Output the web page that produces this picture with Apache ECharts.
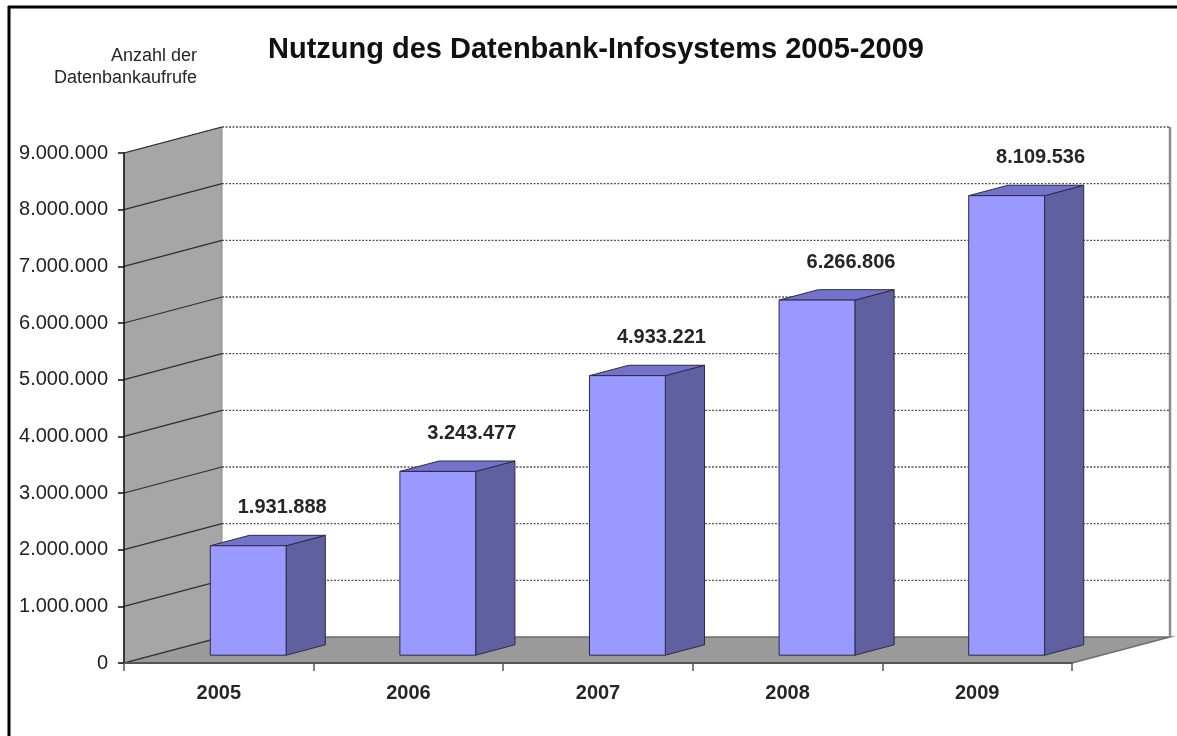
<!DOCTYPE html>
<html><head><meta charset="utf-8">
<script src="https://cdn.jsdelivr.net/npm/echarts@6/dist/echarts.min.js"></script>
<style>html,body{margin:0;padding:0;background:#fff}#c{width:1177px;height:736px}</style>
</head><body><div id="c"></div>
<script>
const categories = ['2005', '2006', '2007', '2008', '2009'];
const values = [1931888, 3243477, 4933221, 6266806, 8109536];
const yMin = 0, yMax = 9000000, yStep = 1000000;
const titleText = 'Nutzung des Datenbank-Infosystems 2005-2009';
const yNameLines = ['Anzahl der', 'Datenbankaufrufe'];

const DX = 98, DY = -26;           // 3D depth offset (pixels)
const BAR_FRONT = 0.3, BAR_DEPTH = 0.4, BAR_W = 0.4;
const FONT = '"Liberation Sans", Arial, sans-serif';
function fmt(v) { return String(v).replace(/\B(?=(\d{3})+(?!\d))/g, '.'); }

const ticks = [];
for (let v = yMin; v <= yMax; v += yStep) ticks.push(v);

const chart = echarts.init(document.getElementById('c'), null, { renderer: 'canvas' });

function renderBackground(params, api) {
  const cs = params.coordSys;
  const x0 = cs.x, x1 = cs.x + cs.width, yT = cs.y, yB = cs.y + cs.height;
  const ch = [];
  // back wall
  ch.push({ type: 'rect', shape: { x: x0 + DX, y: yT + DY, width: x1 - x0, height: yB - yT }, style: { fill: '#ffffff' } });
  // side wall
  ch.push({ type: 'polygon', shape: { points: [[x0, yT], [x0 + DX, yT + DY], [x0 + DX, yB + DY], [x0, yB]] }, style: { fill: '#a6a6a6', stroke: '#8a8a8a', lineWidth: 1 } });
  // floor
  ch.push({ type: 'polygon', shape: { points: [[x0, yB], [x1, yB], [x1 + DX, yB + DY], [x0 + DX, yB + DY]] }, style: { fill: '#9a9a9a', stroke: '#6e6e6e', lineWidth: 1.5 } });
  // back wall right edge
  ch.push({ type: 'line', shape: { x1: x1 + DX, y1: yT + DY, x2: x1 + DX, y2: yB + DY }, style: { stroke: '#8c8c8c', lineWidth: 2.5 } });
  // gridlines
  ticks.forEach(function (v) {
    const y = api.coord([0, v])[1];
    ch.push({ type: 'line', shape: { x1: x0, y1: y, x2: x0 + DX, y2: y + DY }, style: { stroke: '#2e2e2e', lineWidth: 1.2 } });
    if (v > yMin) {
      ch.push({ type: 'line', shape: { x1: x0 + DX, y1: y + DY, x2: x1 + DX, y2: y + DY }, style: { stroke: '#555555', lineWidth: 1.3, lineDash: [2, 1.5] } });
    }
  });
  return { type: 'group', children: ch };
}

function renderBar(params, api) {
  const idx = api.value(0), v = api.value(1);
  const p = api.coord([idx, v]);
  const b = api.coord([idx, 0]);
  const band = api.size([1, 0])[0];
  const w = band * BAR_W;
  const ox = BAR_FRONT * DX, oy = BAR_FRONT * DY;
  const ddx = BAR_DEPTH * DX, ddy = BAR_DEPTH * DY;
  const cx = p[0] + ox;
  const xl = cx - w / 2, xr = cx + w / 2;
  const top = p[1] + oy, bot = b[1] + oy;
  const edge = { stroke: '#2b2b45', lineWidth: 1 };
  return {
    type: 'group',
    children: [
      { type: 'polygon', shape: { points: [[xr, top], [xr + ddx, top + ddy], [xr + ddx, bot + ddy], [xr, bot]] }, style: Object.assign({ fill: '#6060a0' }, edge) },
      { type: 'polygon', shape: { points: [[xl, top], [xr, top], [xr + ddx, top + ddy], [xl + ddx, top + ddy]] }, style: Object.assign({ fill: '#7373cc' }, edge) },
      { type: 'rect', shape: { x: xl, y: top, width: w, height: bot - top }, style: Object.assign({ fill: '#9999ff' }, edge) },
      { type: 'text', x: cx + 34, y: top - 38, style: { text: fmt(v), font: 'bold 20px ' + FONT, fill: '#262626', align: 'center', verticalAlign: 'middle' } }
    ]
  };
}

chart.setOption({
  backgroundColor: '#ffffff',
  animation: false,
  title: {
    text: titleText, left: 263, top: 30,
    textStyle: { fontFamily: FONT, fontSize: 29, fontWeight: 'bold', color: '#111111' }
  },
  grid: { left: 124, right: 105, top: 153, bottom: 73, containLabel: false },
  xAxis: {
    type: 'category', data: categories, z: 6,
    axisLine: { show: true, lineStyle: { color: '#555555', width: 2 } },
    axisTick: { show: true, length: 8, lineStyle: { color: '#555555', width: 1.5 } },
    axisLabel: { margin: 20, fontFamily: FONT, fontSize: 20, fontWeight: 'bold', color: '#262626' },
    splitLine: { show: false }
  },
  yAxis: {
    type: 'value', min: yMin, max: yMax, interval: yStep, z: 6,
    axisLine: { show: true, lineStyle: { color: '#111111', width: 1.5 } },
    axisTick: { show: true, length: 6, lineStyle: { color: '#111111', width: 1.5 } },
    axisLabel: { margin: 16, fontFamily: FONT, fontSize: 20, color: '#222222', formatter: fmt },
    splitLine: { show: false }
  },
  graphic: [
    { type: 'line', shape: { x1: 8, y1: 7, x2: 1177, y2: 7 }, style: { stroke: '#000000', lineWidth: 3 }, z: 10 },
    { type: 'line', shape: { x1: 9, y1: 6, x2: 9, y2: 736 }, style: { stroke: '#000000', lineWidth: 3 }, z: 10 },
    { type: 'text', x: 197, y: 56, style: { text: yNameLines[0], font: '18px ' + FONT, fill: '#262626', align: 'right', verticalAlign: 'middle' } },
    { type: 'text', x: 197, y: 78, style: { text: yNameLines[1], font: '18px ' + FONT, fill: '#262626', align: 'right', verticalAlign: 'middle' } }
  ],
  series: [
    { type: 'custom', z: 1, renderItem: renderBackground, data: [[0, 0]], encode: { x: 0, y: 1 }, silent: true },
    { type: 'custom', z: 3, renderItem: renderBar, data: values.map(function (v, i) { return [i, v]; }), encode: { x: 0, y: 1 } }
  ]
});
</script></body></html>
